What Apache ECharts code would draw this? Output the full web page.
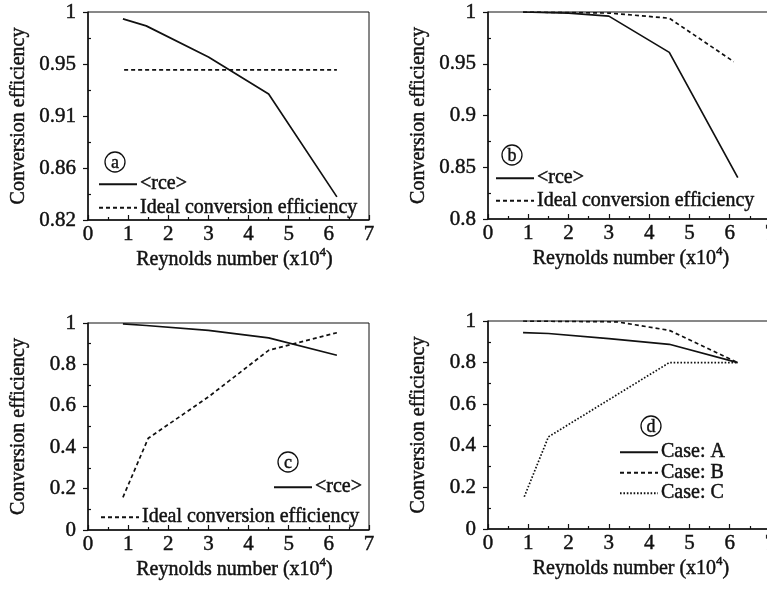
<!DOCTYPE html>
<html><head><meta charset="utf-8">
<script src="https://cdn.jsdelivr.net/npm/echarts@6/dist/echarts.min.js"></script>
<style>html,body{margin:0;padding:0;background:#fff}#c{width:767px;height:592px}</style>
</head><body><div id="c"></div>
<script>
// ---- tick values / labels ----
const xTickMax = 7;
const yTicksA = [0.82, 0.865, 0.91, 0.955, 1];
const yLabelsA = ['0.82', '0.86', '0.91', '0.95', '1'];
const yTicksB = [0.8, 0.85, 0.9, 0.95, 1];
const yLabelsB = ['0.8', '0.85', '0.9', '0.95', '1'];
const yTicksCD = [0, 0.2, 0.4, 0.6, 0.8, 1];
const yLabelsCD = ['0', '0.2', '0.4', '0.6', '0.8', '1'];

// ---- panel (a) ----
const aReX = [0.87, 1.45, 3.0, 4.5, 6.2];
const aRce = [0.994, 0.988, 0.961, 0.929, 0.840];
const aIdealX = [0.9, 6.2];
const aIdeal = [0.95, 0.95];
// ---- panel (b) ----
const bReX = [0.87, 2.0, 3.0, 4.5, 6.2];
const bRce = [1.0, 0.999, 0.996, 0.961, 0.840];
const bIdealX = [0.87, 3.0, 4.5, 6.1];
const bIdeal = [1.0, 0.999, 0.994, 0.952];
// ---- panel (c) ----
const cReX = [0.87, 1.45, 3.0, 4.5, 6.2];
const cRce = [0.996, 0.988, 0.964, 0.928, 0.844];
const cIdealX = [0.87, 1.5, 3.0, 4.5, 6.2];
const cIdeal = [0.158, 0.443, 0.643, 0.868, 0.953];
// ---- panel (d) ----
const dAX = [0.87, 1.5, 3.0, 4.5, 6.2];
const dA = [0.944, 0.94, 0.915, 0.888, 0.80];
const dBX = [0.87, 3.2, 4.5, 6.2];
const dB = [1.0, 0.996, 0.955, 0.80];
const dCX = [0.9, 1.5, 4.5, 6.2];
const dC = [0.155, 0.443, 0.80, 0.80];

const FONT = 'Liberation Serif';
const INK = '#111';
const BOLDEN = {textBorderColor: INK, textBorderWidth: 0.45};
const pairs = (xs, ys) => xs.map((x, i) => [x, ys[i]]);
const mids = t => t.slice(1).map((v, i) => (v + t[i]) / 2);

const grids = [
  {left: 88, top: 12, width: 281, height: 208},
  {left: 488, top: 12, width: 282, height: 207},
  {left: 88, top: 323, width: 281, height: 207},
  {left: 488, top: 321, width: 282, height: 208}
].map(g => Object.assign(g, {show: true, borderColor: INK, borderWidth: 1, backgroundColor: 'transparent', containLabel: false, outerBoundsMode: 'none'}));

const xAxes = grids.map((g, i) => ({
  type: 'value', gridIndex: i, min: 0, max: xTickMax, interval: 1,
  name: 'Reynolds number (x10{s|4})', nameLocation: 'middle', nameGap: 30,
  nameTextStyle: Object.assign({fontFamily: FONT, fontSize: 20, color: INK, padding: [0, 0, 0, i % 2 ? 4 : 12],
    rich: {s: Object.assign({fontFamily: FONT, fontSize: 13, color: INK, lineHeight: 13, padding: [0, 0, 14, 0]}, BOLDEN)}}, BOLDEN),
  axisLine: {show: true, lineStyle: {color: INK, width: 1.5}},
  axisTick: {show: true, inside: true, length: 5, lineStyle: {color: INK, width: 1.2}},
  minorTick: {show: true, splitNumber: 2, length: 3, lineStyle: {color: INK, width: 1.2}},
  axisLabel: Object.assign({fontFamily: FONT, fontSize: 21, color: INK, margin: 4, showMaxLabel: true, showMinLabel: true}, BOLDEN),
  splitLine: {show: false}, minorSplitLine: {show: false}
}));

const yDefs = [[yTicksA, yLabelsA], [yTicksB, yLabelsB], [yTicksCD, yLabelsCD], [yTicksCD, yLabelsCD]];
const yAxes = [];
yDefs.forEach(([ticks, labels], i) => {
  const mn = ticks[0], mx = ticks[ticks.length - 1];
  yAxes.push({
    type: 'value', gridIndex: i, min: mn, max: mx,
    name: 'Conversion efficiency', nameLocation: 'middle', nameGap: 59, nameRotate: 90,
    nameTextStyle: Object.assign({fontFamily: FONT, fontSize: 20, color: INK}, BOLDEN),
    axisLine: {show: true, lineStyle: {color: INK, width: 1.5}},
    axisTick: {show: true, inside: false, length: 5, customValues: ticks, lineStyle: {color: INK, width: 1.2}},
    axisLabel: Object.assign({fontFamily: FONT, fontSize: 21, color: INK, margin: 12, customValues: ticks,
      formatter: v => { let k = 0; ticks.forEach((t, j) => { if (Math.abs(t - v) < Math.abs(ticks[k] - v)) k = j; }); return labels[k]; }}, BOLDEN),
    splitLine: {show: false}
  });
  yAxes.push({
    type: 'value', gridIndex: i, min: mn, max: mx, position: 'left',
    axisLine: {show: false},
    axisTick: {show: true, inside: true, length: 3, customValues: mids(ticks), lineStyle: {color: INK, width: 1.2}},
    axisLabel: {show: false}, splitLine: {show: false}
  });
});

const SOLID = 'solid', DASH = [4, 3], DOT = [1.6, 1.8];
function line(name, gi, xs, ys, type) {
  return {type: 'line', name, xAxisIndex: gi, yAxisIndex: gi * 2, data: pairs(xs, ys),
    symbol: 'none', showSymbol: false, silent: true, animation: false, color: INK,
    itemStyle: {color: INK},
    lineStyle: {color: INK, width: 1.7, type}};
}
const RCE = '<rce>', IDEAL = 'Ideal conversion efficiency';
const series = [
  line(RCE, 0, aReX, aRce, SOLID), line(IDEAL, 0, aIdealX, aIdeal, DASH),
  line(RCE, 1, bReX, bRce, SOLID), line(IDEAL, 1, bIdealX, bIdeal, DASH),
  line(RCE, 2, cReX, cRce, SOLID), line(IDEAL, 2, cIdealX, cIdeal, DASH),
  line('Case: A', 3, dAX, dA, SOLID), line('Case: B', 3, dBX, dB, DASH), line('Case: C', 3, dCX, dC, DOT)
];

const legBase = {orient: 'vertical', itemWidth: 38, itemHeight: 12, itemGap: 3, padding: 0, selectedMode: false,
  itemStyle: {opacity: 0}, lineStyle: {opacity: 1},
  textStyle: Object.assign({fontFamily: FONT, fontSize: 20, color: INK, padding: [0, 0, 0, -2]}, BOLDEN)};
const legends = [
  Object.assign({}, legBase, {data: [RCE, IDEAL], left: 98, top: 174}),
  Object.assign({}, legBase, {data: [RCE, IDEAL], left: 495, top: 168, itemGap: 2}),
  Object.assign({}, legBase, {data: [RCE], left: 273, top: 477}),
  Object.assign({}, legBase, {data: [IDEAL], left: 100, top: 507}),
  Object.assign({}, legBase, {data: ['Case: A', 'Case: B', 'Case: C'], left: 619, top: 442, itemGap: 0,
    textStyle: Object.assign({}, legBase.textStyle, {lineHeight: 19})})
];

const tags = [['a', 115, 162], ['b', 512, 155], ['c', 288, 462], ['d', 651, 426]];
const graphic = [];
tags.forEach(([t, x, y]) => {
  graphic.push({type: 'circle', shape: {cx: x, cy: y, r: 10}, style: {fill: '#fff', stroke: INK, lineWidth: 1.3}, z: 100});
  graphic.push({type: 'text', x: x, y: y + 1, style: Object.assign({text: t, fontFamily: FONT, fontSize: 18, fill: INK, align: 'center', verticalAlign: 'middle', stroke: INK, lineWidth: 0.4}), z: 101});
});

const chart = echarts.init(document.getElementById('c'), null, {renderer: 'canvas'});
chart.setOption({
  backgroundColor: '#fff', animation: false,
  grid: grids, xAxis: xAxes, yAxis: yAxes, legend: legends, series, graphic
});
</script></body></html>
